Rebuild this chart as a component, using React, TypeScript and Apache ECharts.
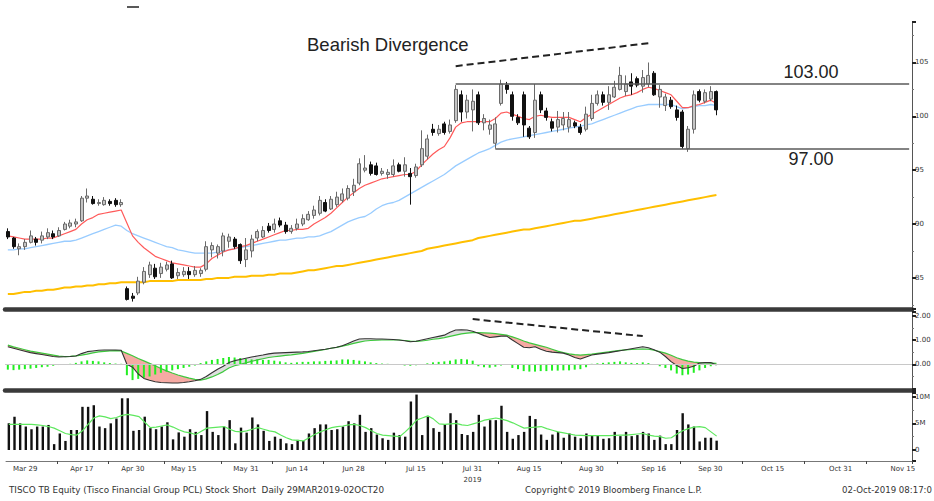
import React, { useEffect, useRef } from 'react';
import * as echarts from 'echarts';

// ---------- calendar ----------
const firstDay = '2019-03-27';
const totalSlots = 160;
const holidays = ['2019-04-08', '2019-04-15', '2019-04-16', '2019-05-01', '2019-05-06', '2019-05-20', '2019-06-03', '2019-07-16', '2019-07-29', '2019-08-12'];
const tickDates = ['2019-03-29', '2019-04-17', '2019-04-30', '2019-05-15', '2019-05-31', '2019-06-14', '2019-06-28', '2019-07-15', '2019-07-31', '2019-08-15', '2019-08-30', '2019-09-16', '2019-09-30', '2019-10-15', '2019-10-31', '2019-11-15'];
const tickTexts = ['Mar 29', 'Apr 17', 'Apr 30', 'May 15', 'May 31', 'Jun 14', 'Jun 28', 'Jul 15', 'Jul 31\n2019', 'Aug 15', 'Aug 30', 'Sep 16', 'Sep 30', 'Oct 15', 'Oct 31', 'Nov 15'];
const tickMarkDates = ['2019-04-10', '2019-04-25', '2019-05-13', '2019-05-28', '2019-06-11', '2019-06-24', '2019-07-09', '2019-07-24', '2019-08-08', '2019-08-26', '2019-09-09', '2019-09-24', '2019-10-09', '2019-10-24', '2019-11-08'];

// ---------- price (OHLC) ----------
const opens = [89.3, 88.7, 87.7, 87.9, 88.3, 88.6, 88.5, 88.8, 89.1, 88.9, 89.5, 89.8, 90.0, 90.3, 92.4, 92.3, 91.9, 91.8, 92.1, 92.2, 91.8, 84.0, 83.3, 83.6, 84.6, 85.3, 85.9, 85.4, 85.8, 86.3, 85.2, 85.3, 85.6, 85.3, 85.4, 85.8, 87.6, 87.3, 87.5, 88.4, 88.6, 88.1, 86.7, 87.5, 88.7, 88.8, 89.8, 89.5, 90.3, 89.9, 89.3, 89.6, 90.0, 90.4, 90.8, 91.0, 92.0, 91.4, 91.8, 92.2, 92.4, 93.0, 93.8, 95.0, 95.5, 95.4, 94.7, 94.6, 94.6, 95.5, 94.9, 94.7, 94.5, 95.5, 96.3, 98.8, 98.4, 99.3, 98.6, 99.6, 102.0, 100.4, 100.6, 102.0, 99.4, 98.8, 97.5, 101.2, 102.9, 102.0, 99.9, 102.0, 98.9, 98.5, 102.0, 100.5, 99.5, 99.0, 99.2, 99.0, 99.4, 99.0, 98.8, 99.8, 101.2, 102.0, 101.3, 101.8, 102.5, 102.3, 103.2, 103.5, 102.8, 103.0, 104.0, 101.8, 101.0, 101.5, 100.6, 100.4, 97.0, 98.8, 102.3, 101.4, 101.6, 102.3];
const closes = [88.8, 87.9, 87.9, 88.3, 88.9, 88.3, 88.9, 89.2, 88.8, 89.4, 90.0, 90.1, 90.2, 92.4, 92.6, 91.9, 92.0, 92.2, 91.9, 91.8, 92.0, 83.0, 83.1, 84.7, 85.6, 86.2, 85.1, 86.0, 86.2, 85.0, 85.5, 85.6, 85.3, 85.7, 85.7, 87.9, 88.0, 87.9, 88.9, 88.8, 87.9, 86.6, 87.6, 88.6, 89.3, 89.4, 89.4, 90.0, 89.9, 89.3, 89.6, 90.0, 90.5, 90.9, 91.3, 92.2, 91.2, 92.3, 92.5, 92.8, 93.3, 93.6, 95.6, 95.2, 94.7, 94.6, 94.9, 94.8, 95.4, 94.9, 95.5, 94.4, 95.3, 97.0, 97.9, 98.5, 98.8, 98.5, 99.2, 102.5, 100.4, 101.5, 101.4, 99.4, 99.8, 99.2, 99.3, 103.0, 102.5, 100.0, 99.4, 99.2, 98.1, 101.5, 100.6, 99.9, 98.9, 99.7, 99.8, 99.7, 99.1, 98.5, 100.2, 101.2, 102.0, 101.3, 102.0, 102.7, 103.8, 103.0, 102.8, 102.9, 103.6, 103.8, 102.0, 102.5, 101.8, 100.9, 99.9, 97.2, 98.8, 102.0, 101.5, 102.2, 102.3, 100.6];
const lows = [88.6, 87.7, 87.1, 87.6, 88.2, 88.0, 88.2, 88.6, 88.6, 88.8, 89.4, 89.6, 89.7, 90.2, 92.0, 91.8, 91.7, 91.7, 91.7, 91.6, 91.6, 82.9, 82.8, 83.4, 84.4, 85.0, 84.9, 85.0, 85.6, 84.9, 84.9, 85.1, 84.9, 85.1, 85.1, 85.6, 86.9, 86.8, 87.0, 87.8, 87.7, 86.3, 86.0, 86.9, 88.4, 88.7, 89.2, 89.2, 89.7, 89.1, 89.1, 89.4, 89.8, 90.3, 90.5, 90.8, 91.1, 91.3, 91.6, 92.0, 92.2, 92.6, 93.6, 94.8, 94.5, 94.5, 94.5, 94.2, 94.4, 94.8, 94.4, 91.8, 94.3, 95.3, 96.0, 98.2, 98.2, 98.3, 98.4, 99.4, 99.5, 99.8, 98.6, 99.2, 98.7, 98.3, 97.0, 101.0, 102.1, 99.6, 99.2, 98.1, 97.9, 98.0, 100.3, 99.6, 98.6, 98.5, 98.7, 98.5, 98.9, 98.3, 98.6, 99.6, 101.0, 101.0, 100.6, 101.7, 102.4, 101.9, 102.0, 102.7, 102.2, 102.7, 101.9, 100.8, 100.5, 100.7, 99.6, 97.0, 96.7, 98.4, 101.3, 101.2, 101.4, 100.1];
const highs = [89.6, 88.8, 88.2, 88.6, 89.4, 88.8, 89.3, 89.6, 89.4, 89.7, 90.2, 90.4, 90.5, 92.6, 93.3, 92.6, 92.3, 92.5, 92.3, 92.4, 92.3, 84.2, 83.6, 85.1, 86.0, 86.5, 86.3, 86.4, 86.5, 86.6, 85.9, 86.0, 86.0, 86.1, 85.9, 88.4, 88.3, 88.1, 89.2, 89.1, 88.8, 88.2, 88.7, 89.0, 89.5, 89.8, 90.1, 90.5, 90.6, 90.2, 89.9, 90.5, 90.9, 91.2, 91.7, 92.6, 92.3, 92.6, 93.0, 93.3, 93.6, 94.2, 96.1, 96.4, 95.8, 95.7, 95.2, 95.1, 96.0, 95.7, 96.2, 95.2, 95.6, 98.7, 98.3, 99.3, 99.2, 99.5, 99.7, 102.9, 102.4, 102.0, 102.5, 102.3, 100.2, 99.7, 99.9, 103.4, 103.2, 102.3, 100.2, 102.3, 99.1, 103.0, 102.3, 100.8, 99.8, 100.5, 100.4, 100.4, 99.6, 99.3, 100.9, 102.0, 102.4, 102.3, 102.8, 103.3, 104.6, 103.8, 104.0, 103.7, 104.3, 105.0, 104.2, 102.9, 102.1, 101.8, 101.0, 100.6, 99.1, 102.4, 102.5, 102.5, 102.8, 102.4];

// moving averages
const maShort = [88.9, 88.8, 88.7, 88.6, 88.6, 88.6, 88.6, 88.7, 88.7, 88.9, 89.1, 89.3, 89.5, 90.0, 90.4, 90.6, 90.9, 91.0, 91.1, 91.2, 91.3, 90.1, 88.9, 88.3, 87.8, 87.4, 87.0, 86.8, 86.6, 86.4, 86.3, 86.2, 86.1, 86.0, 86.0, 86.3, 86.8, 87.1, 87.4, 87.6, 87.7, 87.9, 88.0, 88.2, 88.4, 88.6, 88.8, 89.0, 89.2, 89.4, 89.4, 89.5, 89.5, 89.6, 90.0, 90.3, 90.6, 91.0, 91.5, 92.0, 92.5, 92.9, 93.3, 93.6, 93.8, 94.0, 94.2, 94.3, 94.4, 94.5, 94.6, 94.6, 94.9, 95.5, 96.0, 96.5, 96.9, 97.2, 98.0, 99.0, 99.4, 99.5, 99.5, 99.5, 99.5, 99.5, 99.8, 100.3, 100.4, 100.2, 100.0, 99.8, 99.7, 100.0, 100.1, 100.0, 99.9, 99.9, 99.9, 99.9, 99.7, 99.5, 99.9, 100.2, 100.5, 100.8, 101.1, 101.4, 101.7, 101.9, 102.0, 102.2, 102.5, 102.7, 102.6, 102.4, 102.2, 102.0, 101.4, 100.8, 100.8, 101.0, 101.1, 101.3, 101.5, 101.2];
const maMid = [87.6, 87.6, 87.7, 87.7, 87.8, 87.9, 88.0, 88.1, 88.2, 88.3, 88.4, 88.4, 88.5, 88.7, 88.9, 89.1, 89.3, 89.5, 89.7, 89.9, 89.8, 89.4, 89.1, 88.9, 88.7, 88.5, 88.3, 88.1, 87.9, 87.8, 87.6, 87.5, 87.4, 87.3, 87.3, 87.3, 87.3, 87.4, 87.5, 87.6, 87.7, 87.8, 87.9, 88.0, 88.1, 88.2, 88.3, 88.4, 88.5, 88.5, 88.6, 88.7, 88.7, 88.8, 88.8, 88.9, 89.1, 89.3, 89.6, 89.9, 90.2, 90.4, 90.6, 90.7, 91.0, 91.4, 91.7, 91.9, 92.0, 92.2, 92.5, 92.8, 93.1, 93.4, 93.7, 94.0, 94.3, 94.6, 95.0, 95.4, 95.7, 96.0, 96.3, 96.6, 96.8, 97.0, 97.3, 97.6, 97.8, 97.9, 98.0, 98.1, 98.2, 98.3, 98.4, 98.5, 98.6, 98.7, 98.8, 98.9, 99.0, 99.1, 99.2, 99.3, 99.5, 99.7, 99.9, 100.1, 100.3, 100.5, 100.7, 100.9, 101.0, 101.1, 101.1, 101.1, 101.1, 101.1, 100.9, 100.7, 100.8, 100.9, 101.0, 101.0, 101.1, 101.0];
const maLong = [83.5, 83.5, 83.6, 83.7, 83.7, 83.8, 83.8, 83.9, 83.9, 84.0, 84.1, 84.1, 84.2, 84.2, 84.3, 84.3, 84.4, 84.4, 84.5, 84.5, 84.6, 84.6, 84.6, 84.6, 84.6, 84.7, 84.7, 84.7, 84.7, 84.7, 84.8, 84.8, 84.8, 84.8, 84.8, 84.9, 84.9, 85.0, 85.0, 85.0, 85.1, 85.1, 85.1, 85.2, 85.2, 85.2, 85.3, 85.3, 85.4, 85.4, 85.4, 85.5, 85.6, 85.7, 85.7, 85.8, 85.9, 86.0, 86.1, 86.1, 86.2, 86.3, 86.4, 86.5, 86.6, 86.7, 86.8, 86.9, 87.0, 87.1, 87.2, 87.3, 87.4, 87.5, 87.7, 87.8, 87.9, 88.0, 88.1, 88.2, 88.3, 88.4, 88.5, 88.7, 88.8, 88.9, 89.0, 89.1, 89.2, 89.3, 89.4, 89.5, 89.5, 89.6, 89.7, 89.8, 89.9, 90.0, 90.1, 90.2, 90.3, 90.3, 90.4, 90.5, 90.6, 90.7, 90.8, 90.9, 91.0, 91.1, 91.2, 91.3, 91.4, 91.5, 91.6, 91.7, 91.8, 91.9, 92.0, 92.1, 92.2, 92.3, 92.4, 92.5, 92.6, 92.7];

// ---------- MACD ----------
const macdLine = [0.72, 0.66, 0.6, 0.54, 0.48, 0.44, 0.4, 0.36, 0.32, 0.3, 0.31, 0.32, 0.34, 0.44, 0.52, 0.55, 0.58, 0.59, 0.59, 0.59, 0.58, 0.0, -0.12, -0.4, -0.58, -0.66, -0.72, -0.75, -0.76, -0.77, -0.77, -0.75, -0.72, -0.68, -0.62, -0.5, -0.35, -0.2, -0.08, 0.07, 0.15, 0.2, 0.25, 0.3, 0.34, 0.38, 0.43, 0.46, 0.47, 0.48, 0.49, 0.5, 0.51, 0.53, 0.56, 0.59, 0.62, 0.66, 0.7, 0.76, 0.86, 0.96, 1.04, 1.05, 1.05, 1.04, 1.04, 1.03, 1.02, 1.0, 0.97, 0.93, 0.95, 1.0, 1.05, 1.1, 1.15, 1.2, 1.32, 1.41, 1.42, 1.41, 1.36, 1.28, 1.18, 1.1, 1.13, 1.16, 1.16, 1.0, 0.85, 0.7, 0.68, 0.72, 0.62, 0.54, 0.5, 0.48, 0.46, 0.38, 0.28, 0.22, 0.3, 0.38, 0.42, 0.45, 0.48, 0.52, 0.56, 0.6, 0.64, 0.68, 0.72, 0.68, 0.6, 0.5, 0.32, 0.11, -0.05, -0.17, -0.14, -0.08, 0.05, 0.07, 0.07, -0.03];
const signalLine = [0.79, 0.72, 0.66, 0.6, 0.54, 0.5, 0.46, 0.42, 0.38, 0.34, 0.32, 0.33, 0.35, 0.38, 0.42, 0.47, 0.51, 0.53, 0.55, 0.56, 0.55, 0.45, 0.35, 0.24, 0.14, 0.04, -0.06, -0.17, -0.27, -0.36, -0.44, -0.51, -0.57, -0.62, -0.65, -0.6, -0.52, -0.42, -0.3, -0.15, -0.06, 0.0, 0.06, 0.12, 0.18, 0.23, 0.28, 0.31, 0.34, 0.37, 0.39, 0.42, 0.45, 0.49, 0.53, 0.57, 0.61, 0.66, 0.7, 0.75, 0.8, 0.86, 0.91, 0.96, 0.98, 0.99, 1.0, 1.0, 1.0, 1.0, 0.98, 0.95, 0.94, 0.96, 0.99, 1.03, 1.06, 1.1, 1.15, 1.2, 1.25, 1.28, 1.3, 1.3, 1.29, 1.28, 1.26, 1.23, 1.2, 1.13, 1.05, 0.96, 0.88, 0.82, 0.76, 0.7, 0.62, 0.54, 0.48, 0.43, 0.4, 0.38, 0.4, 0.42, 0.45, 0.48, 0.51, 0.54, 0.57, 0.59, 0.61, 0.62, 0.63, 0.62, 0.58, 0.52, 0.46, 0.37, 0.27, 0.19, 0.13, 0.09, 0.07, 0.06, 0.05, 0.04];
const macdHist = [-0.22, -0.24, -0.22, -0.2, -0.18, -0.15, -0.12, -0.1, -0.06, -0.03, 0.0, 0.02, 0.06, 0.12, 0.16, 0.14, 0.12, 0.08, 0.05, 0.03, 0.02, -0.45, -0.65, -0.6, -0.55, -0.5, -0.42, -0.35, -0.3, -0.25, -0.2, -0.15, -0.1, -0.05, 0.05, 0.12, 0.18, 0.22, 0.26, 0.3, 0.28, 0.26, 0.22, 0.2, 0.2, 0.18, 0.18, 0.15, 0.12, 0.08, 0.06, 0.08, 0.1, 0.1, 0.12, 0.12, 0.14, 0.15, 0.16, 0.2, 0.2, 0.18, 0.15, 0.12, 0.08, 0.05, 0.03, 0.02, 0.0, -0.02, -0.05, -0.06, -0.04, 0.0, 0.04, 0.08, 0.1, 0.12, 0.15, 0.2, 0.22, 0.2, 0.15, -0.08, -0.12, -0.14, -0.1, -0.05, -0.02, -0.15, -0.2, -0.28, -0.3, -0.3, -0.28, -0.28, -0.26, -0.26, -0.25, -0.25, -0.22, -0.2, -0.12, 0.02, 0.04, 0.06, 0.08, 0.1, 0.12, 0.08, 0.06, 0.05, 0.08, 0.05, 0.0, -0.08, -0.15, -0.25, -0.38, -0.45, -0.42, -0.35, -0.25, -0.15, -0.08, -0.03];

// ---------- volume (millions) ----------
const volume = [5.0, 6.25, 5.0, 4.4, 3.9, 4.4, 4.4, 4.7, 1.1, 3.1, 1.7, 3.75, 3.75, 8.1, 8.1, 8.4, 4.4, 4.1, 5.0, 5.9, 9.7, 9.7, 3.6, 3.75, 6.25, 4.1, 3.9, 4.4, 5.2, 2.0, 3.3, 2.5, 3.9, 3.4, 2.8, 7.3, 3.4, 2.8, 4.4, 5.6, 1.25, 4.2, 3.25, 6.1, 4.8, 3.6, 1.7, 2.5, 2.1, 1.25, 1.1, 1.9, 1.7, 3.1, 4.1, 4.8, 4.8, 3.75, 3.9, 4.4, 5.4, 5.0, 6.6, 3.4, 4.1, 2.9, 2.2, 1.9, 3.25, 2.8, 2.5, 9.1, 10.4, 2.8, 6.25, 4.1, 3.4, 4.8, 6.9, 5.6, 3.0, 2.8, 3.4, 6.6, 4.4, 5.6, 5.6, 8.3, 3.4, 2.1, 2.8, 3.4, 6.4, 5.8, 2.9, 1.9, 2.9, 3.4, 2.3, 3.1, 2.5, 2.2, 3.1, 2.8, 2.8, 2.1, 2.2, 3.4, 2.6, 3.4, 2.6, 2.8, 3.4, 3.1, 1.9, 2.7, 1.1, 1.1, 3.75, 6.9, 4.8, 4.4, 1.6, 2.3, 2.3, 1.75];
const volumeAvg = [4.8, 4.8, 4.8, 4.8, 4.8, 4.7, 4.6, 4.4, 4.1, 3.6, 3.1, 2.9, 2.8, 3.6, 4.8, 6.0, 6.4, 6.2, 5.9, 6.1, 6.5, 6.7, 6.5, 6.25, 5.2, 4.2, 4.3, 4.5, 4.7, 4.3, 3.8, 3.4, 3.2, 2.9, 3.5, 4.1, 4.2, 4.3, 4.4, 3.9, 3.5, 3.4, 3.6, 3.9, 4.2, 3.9, 3.6, 3.4, 2.8, 2.3, 1.9, 1.8, 1.7, 2.3, 2.9, 3.4, 3.8, 4.2, 4.4, 4.5, 4.7, 4.8, 4.6, 4.2, 3.6, 3.1, 2.8, 2.7, 2.6, 2.5, 3.4, 4.4, 5.6, 6.0, 6.4, 5.8, 4.9, 4.8, 4.9, 5.0, 4.7, 4.6, 4.9, 5.2, 5.6, 5.8, 6.0, 5.8, 5.5, 5.1, 4.6, 4.1, 4.2, 4.3, 4.4, 4.0, 3.7, 3.4, 3.2, 3.0, 2.8, 2.75, 2.7, 2.7, 2.7, 2.7, 2.7, 2.75, 2.8, 2.8, 2.9, 3.0, 3.1, 2.8, 2.6, 2.5, 2.2, 2.3, 3.0, 3.6, 4.0, 4.3, 4.4, 4.2, 3.4, 2.6];

// ---------- annotations ----------
const resistanceLevel = 103;
const resistanceFrom = '2019-07-26';
const supportLevel = 97;
const supportFrom = '2019-08-07';
const priceDivergence = [['2019-07-26', 104.66], ['2019-09-16', 106.79]];
const macdDivergence = [['2019-08-01', 1.86], ['2019-09-13', 1.16]];

function buildDays(): string[] {
  const out: string[] = [];
  const [y, m, d] = firstDay.split('-').map(Number);
  const cur = new Date(Date.UTC(y, m - 1, d));
  while (out.length < totalSlots) {
    const wd = cur.getUTCDay();
    const s = cur.toISOString().slice(0, 10);
    if (wd !== 0 && wd !== 6 && !holidays.includes(s)) out.push(s);
    cur.setUTCDate(cur.getUTCDate() + 1);
  }
  return out;
}

export default function App() {
  const ref = useRef<HTMLDivElement>(null);
  useEffect(() => {
    if (!ref.current) return;
    const chart = echarts.init(ref.current, undefined, { renderer: 'svg' });
    const days = buildDays();
    const lastDay = days[days.length - 1];
    const candles = opens.map((o, i) => [o, closes[i], lows[i], highs[i]]);
    const macdBase = macdLine.map((m, i) => Math.min(m, signalLine[i]));
    const macdBelow = macdLine.map((m, i) => Math.max(signalLine[i] - m, 0));
    const macdAbove = macdLine.map((m, i) => Math.max(m - signalLine[i], 0));
    const labelFont = 'DejaVu Sans';
    const L = 5, R = 22;

    const catAxis = (gi: number, extra: any) => ({
      type: 'category', gridIndex: gi, data: days, boundaryGap: true,
      axisTick: { show: false }, splitLine: { show: false },
      ...extra,
    });

    const rightAxis = (gi: number, extra: any) => ({
      type: 'value', gridIndex: gi, position: 'right',
      splitLine: { show: false },
      axisLine: { show: true, onZero: false, lineStyle: { color: '#555', width: 1 } },
      axisTick: { show: true, length: 4, lineStyle: { color: '#222', width: 2 } },
      minorTick: { show: true, splitNumber: 2, length: 2, lineStyle: { color: '#777', width: 1 } },
      ...extra,
    });

    const option: any = {
      animation: false,
      backgroundColor: '#ffffff',
      grid: [
        { left: L, right: R, top: 22, height: 287 },
        { left: L, right: R, top: 311.5, height: 78.9 },
        { left: L, right: R, top: 392.7, height: 68.3 },
      ],
      xAxis: [
        catAxis(0, { axisLine: { show: true, onZero: false, lineStyle: { color: '#3a3a3a', width: 4.5 } }, axisLabel: { show: false } }),
        catAxis(1, { axisLine: { show: true, onZero: false, lineStyle: { color: '#3a3a3a', width: 4.5 } }, axisLabel: { show: false } }),
        catAxis(2, {
          axisLine: { show: true, onZero: false, lineStyle: { color: '#777', width: 1 } },
          axisTick: {
            show: true, length: 3, lineStyle: { color: '#444', width: 1 },
            interval: (_i: number, v: string) => tickMarkDates.includes(v),
          },
          axisLabel: {
            show: true, interval: 0, fontSize: 7, color: '#333', fontFamily: labelFont,
            margin: 2, padding: [0, 0, 0, 10], lineHeight: 11,
            formatter: (v: string) => {
              const k = tickDates.indexOf(v);
              return k >= 0 ? tickTexts[k] : '';
            },
          },
        }),
      ],
      yAxis: [
        rightAxis(0, {
          min: 82.11, max: 108.76, minInterval: 5, maxInterval: 5, splitNumber: 5,
          axisLabel: { fontSize: 7, color: '#333', fontFamily: labelFont, margin: 3, showMinLabel: false, showMaxLabel: false },
        }),
        rightAxis(1, {
          min: -1.074, max: 2.173, minInterval: 1, maxInterval: 1, splitNumber: 3,
          axisLabel: {
            fontSize: 7, color: '#333', fontFamily: labelFont, margin: 3, showMinLabel: false, showMaxLabel: false,
            formatter: (v: number) => (v < 0 ? '' : v.toFixed(2)),
          },
        }),
        rightAxis(2, {
          min: -2.064, max: 10.75, minInterval: 5, maxInterval: 5, splitNumber: 2,
          axisLabel: {
            fontSize: 7, color: '#333', fontFamily: labelFont, margin: 3, showMinLabel: false, showMaxLabel: false,
            formatter: (v: number) => (v === 0 ? '0' : v > 0 ? v + 'M' : ''),
          },
        }),
      ],
      series: [
        {
          type: 'line', name: 'maLong', xAxisIndex: 0, yAxisIndex: 0, data: maLong, showSymbol: false,
          lineStyle: { color: '#ffbf00', width: 2 }, z: 2,
        },
        {
          type: 'line', name: 'maMid', xAxisIndex: 0, yAxisIndex: 0, data: maMid, showSymbol: false,
          lineStyle: { color: '#99ccff', width: 1.3 }, z: 2,
        },
        {
          type: 'line', name: 'maShort', xAxisIndex: 0, yAxisIndex: 0, data: maShort, showSymbol: false,
          lineStyle: { color: '#ff5a5a', width: 1.2 }, z: 2,
        },
        {
          type: 'candlestick', name: 'price', xAxisIndex: 0, yAxisIndex: 0, data: candles,
          barWidth: 3.5, z: 3,
          itemStyle: { color: '#c4c4c4', color0: '#111111', borderColor: '#6a6a6a', borderColor0: '#111111', borderWidth: 1 },
          markLine: {
            silent: true, symbol: 'none', animation: false, label: { show: false },
            lineStyle: { color: '#5a5a5a', width: 1.6, type: 'solid' },
            data: [
              [{ coord: [resistanceFrom, resistanceLevel] }, { coord: [lastDay, resistanceLevel] }],
              [{ coord: [supportFrom, supportLevel] }, { coord: [lastDay, supportLevel] }],
              [
                { coord: priceDivergence[0], lineStyle: { color: '#222', width: 2, type: [7, 4] } },
                { coord: priceDivergence[1] },
              ],
            ],
          },
        },
        {
          type: 'line', name: 'macdBase', xAxisIndex: 1, yAxisIndex: 1, data: macdBase, stack: 'macd', stackStrategy: 'all',
          showSymbol: false, lineStyle: { opacity: 0, width: 0 }, silent: true, z: 1,
        },
        {
          type: 'line', name: 'macdBelow', xAxisIndex: 1, yAxisIndex: 1, data: macdBelow, stack: 'macd', stackStrategy: 'all',
          showSymbol: false, lineStyle: { opacity: 0, width: 0 }, areaStyle: { color: '#f6aaa3', opacity: 1 }, silent: true, z: 1,
        },
        {
          type: 'line', name: 'macdAbove', xAxisIndex: 1, yAxisIndex: 1, data: macdAbove, stack: 'macd', stackStrategy: 'all',
          showSymbol: false, lineStyle: { opacity: 0, width: 0 }, areaStyle: { color: '#dedede', opacity: 1 }, silent: true, z: 1,
        },
        {
          type: 'bar', name: 'hist', xAxisIndex: 1, yAxisIndex: 1, data: macdHist, barWidth: 2,
          itemStyle: { color: '#22ee22' }, z: 2,
          markLine: {
            silent: true, symbol: 'none', animation: false, label: { show: false },
            data: [
              [{ yAxis: 0, x: L, lineStyle: { color: '#c8c8c8', width: 1, type: 'solid' } }, { yAxis: 0, x: 912 }],
            ],
          },
        },
        {
          type: 'line', name: 'signal', xAxisIndex: 1, yAxisIndex: 1, data: signalLine, showSymbol: false,
          lineStyle: { color: '#3cc83c', width: 1.2 }, z: 3,
        },
        {
          type: 'line', name: 'macd', xAxisIndex: 1, yAxisIndex: 1, data: macdLine, showSymbol: false,
          lineStyle: { color: '#333333', width: 1.1 }, z: 4,
          markLine: {
            silent: true, symbol: 'none', animation: false, label: { show: false },
            lineStyle: { color: '#222', width: 2, type: [7, 4] },
            data: [[{ coord: macdDivergence[0] }, { coord: macdDivergence[1] }]],
          },
        },
        {
          type: 'bar', name: 'volume', xAxisIndex: 2, yAxisIndex: 2, data: volume, barWidth: 2.4,
          itemStyle: { color: '#111111' }, z: 2,
        },
        {
          type: 'line', name: 'volumeAvg', xAxisIndex: 2, yAxisIndex: 2, data: volumeAvg, showSymbol: false,
          lineStyle: { color: '#5ee85e', width: 1.2 }, z: 3,
        },
      ],
      graphic: [
        { type: 'line', shape: { x1: 127, y1: 7, x2: 139, y2: 7 }, style: { stroke: '#222', lineWidth: 1.5 } },
        { type: 'text', x: 307, y: 44, style: { text: 'Bearish Divergence', font: '18.5px "Liberation Sans", Arial, sans-serif', fill: '#222', verticalAlign: 'middle' } },
        { type: 'text', x: 811, y: 72, style: { text: '103.00', font: '18px "Liberation Sans", Arial, sans-serif', fill: '#222', align: 'center', verticalAlign: 'middle' } },
        { type: 'text', x: 811, y: 159, style: { text: '97.00', font: '18px "Liberation Sans", Arial, sans-serif', fill: '#222', align: 'center', verticalAlign: 'middle' } },
        { type: 'text', x: 9, y: 490, style: { text: 'TISCO TB Equity (Tisco Financial Group PCL) Stock Short  Daily 29MAR2019-02OCT20', font: '8.8px "DejaVu Sans", sans-serif', fill: '#333', verticalAlign: 'middle' } },
        { type: 'text', x: 525, y: 490, style: { text: 'Copyright\u00a9 2019 Bloomberg Finance L.P.', font: '8.6px "DejaVu Sans", sans-serif', fill: '#333', verticalAlign: 'middle' } },
        { type: 'text', x: 842, y: 490, style: { text: '02-Oct-2019 08:17:0', font: '8.6px "DejaVu Sans", sans-serif', fill: '#333', verticalAlign: 'middle' } },
      ],
    };
    chart.setOption(option);
    return () => chart.dispose();
  }, []);
  return <div ref={ref} style={{ position: 'fixed', left: 0, top: 0, width: 934, height: 501, background: '#fff' }} />;
}
